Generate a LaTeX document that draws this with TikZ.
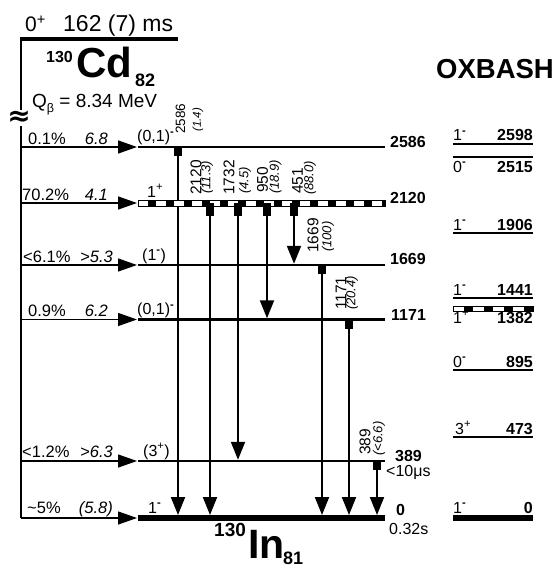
\documentclass[tikz,border=0pt]{standalone}
\usepackage{fontspec}
\setmainfont{Liberation Sans}
\newfontfamily\djv{DejaVu Sans}
\usetikzlibrary{arrows.meta}
\newcommand\fsz[1]{\fontsize{#1bp}{#1bp}\selectfont}
\newcommand\sm{\textsuperscript{\textbf{-}}}
\begin{document}
\begin{tikzpicture}[x=1bp,y=-1bp,
  lev/.style={line width=2.3bp},
  gslev/.style={line width=6bp},
  oxlev/.style={line width=2.5bp},
  feed/.style={line width=1.3bp,-{Triangle[length=19bp,width=13bp]}},
  trans/.style={line width=2bp,-{Triangle[length=18bp,width=14bp]}},
  elab/.style={rotate=90,anchor=west,inner sep=0,font=\fsz{15.5}},
  ilab/.style={rotate=90,anchor=west,inner sep=0,font=\fsz{13}\itshape},
  elabs/.style={elab,font=\fsz{13.5}},
  ilabs/.style={ilab,font=\fsz{11.5}\itshape},
  lvlab/.style={anchor=west,inner sep=0,font=\fsz{16}\bfseries},
  plain/.style={anchor=west,inner sep=0,font=\fsz{16}},
  spin/.style={anchor=base west,inner sep=0,font=\fsz{16}},
  pct/.style={anchor=base west,inner sep=0,font=\fsz{16.5}},
  lgft/.style={anchor=base east,inner sep=0,font=\fsz{16.5}\itshape},
  oxe/.style={anchor=base east,inner sep=0,font=\fsz{16}\bfseries},
  tab/.style={fill=black},
]
\useasboundingbox (0,0) rectangle (557,567);

% ---------- coordinates ----------
\coordinate (XL) at (138,0);
\coordinate (XR) at (385,0);
\coordinate (XF) at (21,0);
\coordinate (XT) at (137,0);
\coordinate (OL) at (453,0);
\coordinate (OR) at (533,0);
\coordinate (L2586) at (0,147);
\coordinate (L2120) at (0,203);
\coordinate (L2120b) at (0,206);
\coordinate (L1669) at (0,265);
\coordinate (L1171) at (0,319.5);
\coordinate (L389) at (0,461);
\coordinate (L0) at (0,518);
\coordinate (T1669) at (0,263.8);
\coordinate (T1171) at (0,318.3);
\coordinate (T389) at (0,459.8);
\coordinate (T0) at (0,515);
\coordinate (XA) at (178,0);
\coordinate (XB) at (210,0);
\coordinate (XC) at (238,0);
\coordinate (XD) at (267,0);
\coordinate (XE) at (294,0);
\coordinate (XG) at (322,0);
\coordinate (XH) at (349,0);
\coordinate (XI) at (377,0);

% ---------- parent ----------
\coordinate (P0) at (20,39.5);
\coordinate (P1) at (178,39.5);
\draw[line width=4bp] (P0) -- (P1);
\node[anchor=base west,inner sep=0,font=\fsz{21}] (pspin) at (25,32) {0\textsuperscript{+}};
\node[anchor=base west,inner sep=0,font=\fsz{23}] (phl) at (63,32) {162 (7) ms};
\node[anchor=base west,inner sep=0,font=\fsz{16}\bfseries] (pA) at (46,63) {130};
\node[anchor=base west,inner sep=0,font=\fsz{42}\bfseries] (pEl) at (76,78) {Cd};
\node[anchor=base west,inner sep=0,font=\fsz{18}\bfseries] (pN) at (135,87) {82};
\node[anchor=base west,inner sep=0,font=\fsz{19}] (pQ) at (32,108) {Q\raisebox{-0.4ex}{\fsz{12.5}β} = 8.34 MeV};

% vertical feeding line
\draw[line width=1.3bp] (XF |- P0) -- (XF |- L0);
\node[fill=white,inner sep=0.3bp,font=\fsz{28}\djv\bfseries] (brk) at (19,118) {≈};

% feeding arrows
\foreach \L in {L2586,L2120,L1669,L1171,L389,L0}
  \draw[feed] (XF |- \L) -- (XT |- \L);

\node[pct] (f1a) at (28,144.5) {0.1\%};      \node[lgft] (f1b) at (108,144.5) {6.8};
\node[pct] (f2a) at (22,200.5) {70.2\%};     \node[lgft] (f2b) at (108,200.5) {4.1};
\node[pct] (f3a) at (23,262) {<6.1\%};     \node[lgft] (f3b) at (113,262) {>5.3};
\node[pct] (f4a) at (28,316.5) {0.9\%};    \node[lgft] (f4b) at (108,316.5) {6.2};
\node[pct] (f5a) at (22,457.5) {<1.2\%};     \node[lgft] (f5b) at (113,457.5) {>6.3};
\node[pct] (f6a) at (27,513.5) {\textasciitilde5\%}; \node[lgft] (f6b) at (113,513.5) {(5.8)};

% ---------- daughter levels ----------
\draw[lev] (XL |- L2586) -- (XR |- L2586);
\draw[lev] (XL |- L1669) -- (XR |- L1669);
\draw[lev] (XL |- L1171) -- (XR |- L1171);
\draw[lev] (XL |- L389) -- (XR |- L389);
\draw[gslev] (XL |- L0) -- (XR |- L0);

% spins
\node[spin] (s1) at (137,142) {(0,1)\sm};
\node[spin] (s2) at (147,197) {1\textsuperscript{+}};
\node[spin] (s3) at (142,260) {(1\sm)};
\node[spin] (s4) at (137,314.5) {(0,1)\sm};
\node[spin] (s5) at (143,456) {(3\textsuperscript{+})};
\node[spin] (s6) at (148,513) {1\sm};

% energies
\node[lvlab] (e1) at (390,142) {2586};
\node[lvlab] (e2) at (390,198) {2120};
\node[lvlab] (e3) at (390,259) {1669};
\node[lvlab] (e4) at (391,315) {1171};
\node[lvlab] (e5) at (395,456) {389};
\node[lvlab] (e6) at (396,510) {0};
\node[plain] (h5) at (386,472) {<10μs};
\node[plain] (h6) at (389,529) {0.32s};

% ---------- transitions ----------
\draw[trans] (XA |- L2586) -- (XA |- T0);
\draw[trans] (XB |- L2120b) -- (XB |- T0);
\draw[trans] (XC |- L2120b) -- (XC |- T389);
\draw[trans] (XD |- L2120b) -- (XD |- T1171);
\draw[trans] (XE |- L2120b) -- (XE |- T1669);
\draw[trans] (XG |- L1669) -- (XG |- T0);
\draw[trans] (XH |- L1171) -- (XH |- T0);
\draw[trans] (XI |- L389) -- (XI |- T0);

% 2120 dashed level
\draw[line width=1bp,fill=white] (XL |- 0,200) rectangle (XR |- 0,206);
\draw[line width=6bp,dash pattern=on 8bp off 10bp,dash phase=8bp] (XL |- L2120) -- (XR |- L2120);

% start tabs
\fill[tab] (XA |- L2586) ++(-4,0) rectangle ++(8,9);
\foreach \X in {XB,XC,XD,XE}
  \fill[tab] (\X |- L2120) ++(-4,0) rectangle ++(8,13);
\fill[tab] (XG |- L1669) ++(-4,0) rectangle ++(8,9);
\fill[tab] (XH |- L1171) ++(-4,0) rectangle ++(8,9);
\fill[tab] (XI |- L389) ++(-4,0) rectangle ++(8,9);

% transition labels
\node[elabs] (g1) at (180.5,134) {2586};  \node[ilabs] (i1) at (198,132) {(1.4)};
\node[elab] (g2) at (196,195) {2120};     \node[ilab] (i2) at (207,194) {(11.3)};
\node[elab] (g3) at (229,195) {1732};     \node[ilab] (i3) at (245,194) {(4.5)};
\node[elab] (g4) at (262.5,193) {950};    \node[ilab] (i4) at (275.5,194) {(18.9)};
\node[elab] (g5) at (297.5,194) {451};    \node[ilab] (i5) at (310,195) {(88.0)};
\node[elab] (g6) at (313,253) {1669};     \node[ilab] (i6) at (328,252) {(100)};
\node[elab] (g7) at (341,310) {1171};     \node[ilab] (i7) at (352,310) {(20.4)};
\node[elab] (g8) at (365,455) {389};      \node[ilab] (i8) at (379,456) {(<6.6)};

% daughter name
\node[anchor=base west,inner sep=0,font=\fsz{19}\bfseries] (dA) at (214,536) {130};
\node[anchor=base west,inner sep=0,font=\fsz{41}\bfseries] (dEl) at (248,558) {In};
\node[anchor=base west,inner sep=0,font=\fsz{18}\bfseries] (dN) at (283,564.5) {81};

% ---------- OXBASH ----------
\node[anchor=base west,inner sep=0,font=\fsz{27.5}\bfseries] (ox) at (436,79) {OXBASH};
\coordinate (O2598) at (0,144);
\coordinate (O2515) at (0,157);
\coordinate (O1906) at (0,233);
\coordinate (O1441) at (0,298);
\coordinate (O1382) at (0,309);
\coordinate (O895) at (0,370);
\coordinate (O473) at (0,437);
\coordinate (O0) at (0,518);
\foreach \L in {O2598,O2515,O1906,O1441,O895,O473}
  \draw[oxlev] (OL |- \L) -- (OR |- \L);
\draw[gslev] (OL |- O0) -- (OR |- O0);
\draw[line width=1bp,fill=white] (OL |- 0,306.5) rectangle (OR |- 0,311.5);
\draw[line width=5bp,dash pattern=on 9bp off 11bp,dash phase=9bp] (OL |- O1382) -- (OR |- O1382);

\node[spin] (os1) at (453,141) {1\sm};  \node[oxe] (oe1) at (533,141) {2598};
\node[spin] (os2) at (453,172) {0\sm};  \node[oxe] (oe2) at (533,172) {2515};
\node[spin] (os3) at (453,230) {1\sm};  \node[oxe] (oe3) at (533,230) {1906};
\node[spin] (os4) at (453,295) {1\sm};  \node[oxe] (oe4) at (533,295) {1441};
\node[spin] (os5) at (453,323) {1\textsuperscript{+}};  \node[oxe] (oe5) at (533,323) {1382};
\node[spin] (os6) at (453,367) {0\sm};  \node[oxe] (oe6) at (533,367) {895};
\node[spin] (os7) at (455,434) {3\textsuperscript{+}};  \node[oxe] (oe7) at (533,434) {473};
\node[spin] (os8) at (453,513) {1\sm};  \node[oxe] (oe8) at (533,513) {0};
\end{tikzpicture}
\end{document}
